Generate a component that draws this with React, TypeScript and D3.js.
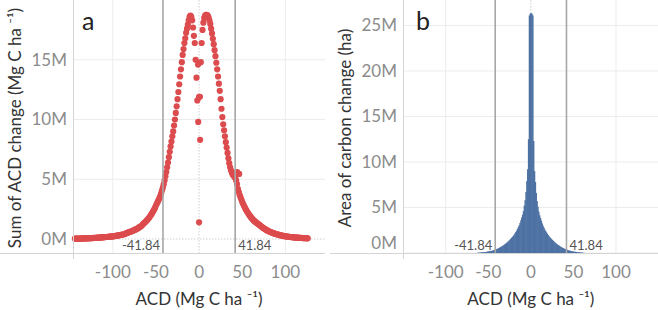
import React from "react";
import * as d3 from "d3";

// ---------- Panel a: sum of ACD change per ACD bin (Mg C ha-1), values in millions ----------
const acdStart = -144;
const sumChangeM = [
  0.03,0.03,0.03,0.04,0.04,0.04,0.04,0.04,0.05,0.05,
  0.05,0.05,0.06,0.06,0.06,0.06,0.07,0.07,0.07,0.08,
  0.08,0.08,0.09,0.09,0.10,0.10,0.11,0.11,0.12,0.12,
  0.13,0.13,0.14,0.15,0.15,0.16,0.17,0.17,0.18,0.19,
  0.20,0.20,0.21,0.22,0.22,0.24,0.25,0.26,0.27,0.28,
  0.30,0.31,0.32,0.34,0.35,0.37,0.38,0.40,0.43,0.46,
  0.50,0.52,0.55,0.58,0.60,0.63,0.66,0.69,0.72,0.75,
  0.78,0.82,0.86,0.90,0.95,0.99,1.04,1.09,1.15,1.25,
  1.31,1.38,1.44,1.52,1.60,1.69,1.78,1.88,1.98,2.10,
  2.22,2.35,2.48,2.62,2.80,2.95,3.10,3.25,3.42,3.60,
  3.82,4.05,4.30,4.58,4.90,5.25,5.60,6.00,6.40,6.85,
  7.30,7.75,8.15,8.60,9.00,9.50,10.00,10.55,11.10,11.70,
  12.30,12.95,13.60,14.20,14.80,15.40,15.90,16.40,16.80,17.25,
  17.60,17.95,18.30,18.60,18.70,18.60,18.30,17.70,17.00,16.40,
  15.00,13.50,11.60,9.80,1.40,11.90,14.80,16.40,17.50,18.10,
  18.50,18.70,18.75,18.75,18.70,18.55,18.30,18.00,17.60,17.20,
  16.75,16.30,15.80,15.30,14.75,14.20,13.60,13.00,12.40,11.70,
  10.90,10.20,9.60,9.10,8.60,8.10,7.65,7.20,6.75,6.35,
  6.00,5.75,5.55,5.40,5.30,5.20,5.10,4.90,4.60,4.20,
  3.95,3.70,3.50,3.30,3.10,2.95,2.80,2.65,2.50,2.38,
  2.26,2.14,2.03,1.93,1.83,1.74,1.66,1.58,1.51,1.45,
  1.39,1.33,1.28,1.23,1.18,1.12,1.06,1.00,0.95,0.90,
  0.85,0.80,0.76,0.72,0.68,0.64,0.61,0.58,0.55,0.52,
  0.50,0.47,0.45,0.42,0.40,0.38,0.36,0.34,0.32,0.30,
  0.29,0.27,0.26,0.24,0.23,0.22,0.21,0.20,0.19,0.18,
  0.17,0.16,0.15,0.14,0.14,0.13,0.12,0.12,0.11,0.11,
  0.10,0.10,0.09,0.09,0.08,0.08,0.08,0.07,0.07,0.07,0.06,
];
const extraAcd = [-1.2, 0, 1.2, 44.2, 46.5];
const extraSumM = [14.6, 11.9, 8.3, 5.6, 5.45];

// ---------- Panel b: area of carbon change per ACD bin (ha), values in millions ----------
const histStart = -63;
const areaM = [
  0.02,0.03,0.04,0.05,0.06,0.07,0.08,0.09,0.10,0.11,
  0.12,0.14,0.15,0.17,0.19,0.21,0.23,0.25,0.28,0.31,
  0.34,0.37,0.41,0.45,0.49,0.54,0.59,0.64,0.70,0.76,
  0.82,0.88,0.95,1.02,1.10,1.18,1.27,1.36,1.45,1.55,
  1.65,1.76,1.88,2.00,2.15,2.30,2.45,2.65,2.85,3.05,
  3.30,3.60,3.90,4.20,4.60,5.20,5.80,6.70,7.90,9.20,
  12.5,26.1,26.3,26.35,26.3,26.1,12.3,9.0,7.8,6.6,
  5.7,5.1,4.55,4.15,3.85,3.55,3.25,3.0,2.8,2.6,
  2.42,2.27,2.12,1.98,1.86,1.74,1.63,1.53,1.43,1.34,
  1.25,1.16,1.08,1.0,0.93,0.86,0.8,0.74,0.68,0.62,
  0.57,0.52,0.48,0.44,0.4,0.36,0.33,0.3,0.27,0.24,
  0.22,0.2,0.18,0.16,0.14,0.13,0.12,0.1,0.09,0.08,
  0.07,0.06,0.05,0.04,0.03,0.02,
];

const xTicks = [-100, -50, 0, 50, 100];
const xGrid = [-100, 100];
const yTicksA = [0, 5, 10, 15];
const yTicksB = [0, 5, 10, 15, 20, 25];
const refValues = [-41.84, 41.84];
const refLabels = ["-41.84", "41.84"];

const FONT = "Lato, 'Open Sans', sans-serif";
const TICK_COLOR = "#8c8c8c";
const GRID = "#ececec";
const AXIS = "#d4d4d4";
const REF = "#a6a6a6";
const DOT = "#dc4b4d";
const BAR = "#4e72a3";
const TITLE = "#333333";

const acdUnit = "ACD (Mg C ha \u207B\u00B9)";

function Panel(props: any) {
  const { x, y, yTicks, left, right, bottom, label, labelX, yTitle, yTitleX, children, sepLeft } = props;
  return (
    <g>
      {yTicks.map((t: number) => (
        <line key={"hg" + t} x1={left} x2={right} y1={y(t)} y2={y(t)}
          stroke={t === 0 && y(0) < bottom - 1 ? "#cfcfcf" : GRID}
          strokeDasharray={t === 0 && y(0) < bottom - 1 ? "1.5,1.5" : undefined} strokeWidth={1} />
      ))}
      {xGrid.map((t) => (
        <line key={"vg" + t} x1={x(t)} x2={x(t)} y1={0} y2={bottom} stroke={GRID} />
      ))}
      <line x1={x(0)} x2={x(0)} y1={0} y2={bottom} stroke="#cfcfcf" strokeDasharray="1.5,1.5" />
      {children}
      {refValues.map((v, i) => (
        <g key={"ref" + i}>
          <line x1={x(v)} x2={x(v)} y1={0} y2={bottom} stroke={REF} strokeWidth={1.6} />
          <text x={v < 0 ? x(v) - 3 : x(v) + 3} y={bottom - 3}
            textAnchor={v < 0 ? "end" : "start"} fontSize={13} fill="#555" fontFamily={FONT}>
            {refLabels[i]}
          </text>
        </g>
      ))}
      <line x1={sepLeft} x2={right} y1={bottom + 0.5} y2={bottom + 0.5} stroke={AXIS} />
      <line x1={left - 0.5} x2={left - 0.5} y1={0} y2={bottom + 6} stroke={AXIS} />
      {yTicks.map((t: number) => (
        <text key={"yl" + t} x={left - 7} y={Math.min(y(t), bottom - 10)} dy="0.35em" textAnchor="end"
          fontSize={17} fill={TICK_COLOR} fontFamily={FONT}>
          {t + "M"}
        </text>
      ))}
      {xTicks.map((t) => (
        <text key={"xl" + t} x={x(t)} y={278} textAnchor="middle" fontSize={17} fill={TICK_COLOR} fontFamily={FONT}>
          {t}
        </text>
      ))}
      <text x={(x(-146) + x(146)) / 2} y={305} textAnchor="middle" fontSize={17}
        fill={TITLE} fontFamily={FONT}>
        {acdUnit}
      </text>
      <text transform={`translate(${yTitleX},128) rotate(-90)`} textAnchor="middle" fontSize={17}
        fill={TITLE} fontFamily={FONT}>
        {yTitle}
      </text>
      <text x={labelX} y={30} fontSize={25} fill="#222" fontFamily={FONT}>{label}</text>
    </g>
  );
}

export default function App() {
  const W = 658, H = 310;
  const bottom = 253;

  const xA = d3.scaleLinear().domain([-145, 146]).range([74, 325]);
  const yA = d3.scaleLinear().domain([-1.17, 20]).range([bottom, 0]);
  const dotsA = sumChangeM.map((v, i) => ({ acd: acdStart + i, val: v }))
    .concat(extraAcd.map((a, i) => ({ acd: a, val: extraSumM[i] })));

  const xB = d3.scaleLinear().domain([-149, 147]).range([404, 656]);
  const yB = d3.scaleLinear().domain([0, 27.8]).range([bottom, 0]);
  const bins = areaM.map((v, i) => ({ acd: histStart + i, val: v }));
  const bw = xB(1) - xB(0);

  return (
    <svg width={W} height={H} style={{ position: "absolute", left: 0, top: 0, background: "#fff" }}>
      <rect x={0} y={0} width={W} height={H} fill="#fff" />
      <Panel x={xA} y={yA} yTicks={yTicksA} left={74} right={325} bottom={bottom} label="a" labelX={82}
        yTitle={"Sum of ACD change (Mg C ha \u207B\u00B9)"} yTitleX={21} sepLeft={0}>
        {dotsA.map((d, i) => (
          <circle key={i} cx={xA(d.acd)} cy={yA(d.val)} r={3.1} fill={DOT} />
        ))}
      </Panel>
      <Panel x={xB} y={yB} yTicks={yTicksB} left={404} right={658} bottom={bottom} label="b" labelX={416}
        yTitle={"Area of carbon change (ha)"} yTitleX={351} sepLeft={330}>
        {bins.map((d, i) => (
          <rect key={i} x={xB(d.acd - 0.5)} width={bw + 0.6} y={yB(d.val)} height={bottom - yB(d.val)} fill={BAR} />
        ))}
      </Panel>
    </svg>
  );
}
